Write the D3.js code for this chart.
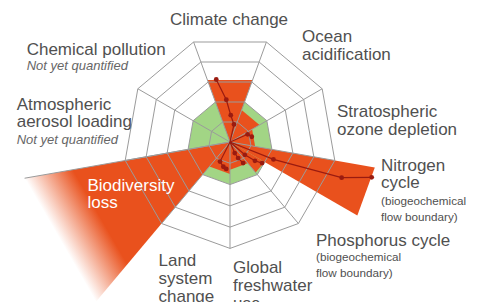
<!DOCTYPE html>
<html><head><meta charset="utf-8">
<script src="https://cdn.jsdelivr.net/npm/d3@7"></script>
<style>html,body{margin:0;padding:0;background:#fff;overflow:hidden}</style>
</head><body><svg id="c" width="479" height="302"></svg>
<script>
// ---------- DATA ----------
const sectors = ["Climate change","Ocean acidification","Stratospheric ozone depletion","Biogeochemical flows","Global freshwater use","Land system change","Biodiversity loss","Atmospheric aerosol loading","Chemical pollution"];
const wedgeNames  = ["Climate change","Ocean acidification","Stratospheric ozone depletion","Nitrogen cycle","Phosphorus cycle","Global freshwater use","Land system change","Biodiversity loss"];
const wedgeSector = [0,1,2,3,3,4,5,6];
const wedgeFrom   = [0,0,0,0,0.5,0,0,0];
const wedgeTo     = [1,1,1,0.5,1,1,1,1];
const wedgeValues = [1.55,0.8,0.6,3.62,0.98,0.65,0.75,4.9]; // multiples of the boundary
const fadingWedge = "Biodiversity loss";
const fadeStart = 3.75;
const boundary = 1;
const gridTicks = [0.5,1,1.5,2,2.5];
// trajectories: [position within wedge (0..1), value]
const trajectories = {
  "Climate change": [[0.82,0.45],[0.54,0.67],[0.375,1.06],[0.19,1.6]],
  "Stratospheric ozone depletion": [[0.16,0.48],[0.41,0.56]],
  "Nitrogen cycle": [[0.59,1.17],[0.385,2.93],[0.2,3.65]],
  "Phosphorus cycle": [[0.54,0.49],[0.35,0.78],[0.165,0.96]],
  "Global freshwater use": [[0.42,0.3],[0.33,0.45],[0.2,0.62]],
  "Land system change": [[0.675,0.55],[0.375,0.64],[0.2,0.68]]
};

// ---------- LAYOUT ----------
const cx = 230, cy = 142;
const svg = d3.select("#c");
const r = d3.scaleLinear().domain([0, 2.5]).range([0, 100]); // apothem in px
const span = 360 / sectors.length;
const a0 = -span / 2;
const rad = d => d * Math.PI / 180;
const pt = (ang, dist) => [cx + dist * Math.sin(rad(ang)), cy - dist * Math.cos(rad(ang))];
function wedgePts(a1, a2, h) {
  const m = (a1 + a2) / 2;
  return [[cx, cy], pt(a1, h / Math.cos(rad(a1 - m))), pt(a2, h / Math.cos(rad(a2 - m)))];
}
function ringPts(h) {
  const R = h / Math.cos(rad(span / 2));
  return d3.range(sectors.length).map(k => pt(a0 + k * span, R));
}
const RED = "#e9511d", GREEN = "#a2d585", GRID = "#9b9b9b", DARK = "#9a1b10";

const defs = svg.append("defs");
const wedgeAngles = wedgeNames.map((n, i) => {
  const s = a0 + wedgeSector[i] * span;
  return [s + wedgeFrom[i] * span, s + wedgeTo[i] * span];
});

// green safe operating space
svg.append("polygon").attr("points", ringPts(r(boundary)).join(" ")).attr("fill", GREEN);

// red wedges
wedgeNames.forEach((n, i) => {
  const [a1, a2] = wedgeAngles[i];
  let fill = RED;
  if (n === fadingWedge) {
    const m = (a1 + a2) / 2;
    const p1 = pt(m, r(fadeStart)), p2 = pt(m, r(wedgeValues[i]));
    const g = defs.append("linearGradient").attr("id", "fade").attr("gradientUnits", "userSpaceOnUse")
      .attr("x1", p1[0]).attr("y1", p1[1]).attr("x2", p2[0]).attr("y2", p2[1]);
    g.append("stop").attr("offset", 0).attr("stop-color", RED).attr("stop-opacity", 1);
    g.append("stop").attr("offset", 0.45).attr("stop-color", RED).attr("stop-opacity", 0.55);
    g.append("stop").attr("offset", 1).attr("stop-color", RED).attr("stop-opacity", 0);
    fill = "url(#fade)";
  }
  svg.append("polygon").attr("points", wedgePts(a1, a2, r(wedgeValues[i])).join(" ")).attr("fill", fill);
});

// grid
const grid = svg.append("g").attr("fill", "none").attr("stroke", GRID).attr("stroke-width", 1);
gridTicks.forEach(t => grid.append("polygon").attr("points", ringPts(r(t)).join(" ")));
const Rout = r(gridTicks[gridTicks.length - 1]) / Math.cos(rad(span / 2));
d3.range(sectors.length).forEach(k => {
  const p = pt(a0 + k * span, Rout);
  grid.append("line").attr("x1", cx).attr("y1", cy).attr("x2", p[0]).attr("y2", p[1]);
});
{ // edge line of the fading wedge
  const i = wedgeNames.indexOf(fadingWedge);
  const [a1, a2] = wedgeAngles[i];
  const p = wedgePts(a1, a2, r(wedgeValues[i]))[2];
  grid.append("line").attr("x1", cx).attr("y1", cy).attr("x2", p[0]).attr("y2", p[1]);
}

// trajectories
const line = d3.line();
Object.entries(trajectories).forEach(([n, pts]) => {
  const i = wedgeNames.indexOf(n);
  const [a1, a2] = wedgeAngles[i];
  const xy = pts.map(([f, v]) => pt(a1 + f * (a2 - a1), r(v)));
  svg.append("path").attr("d", line([[cx, cy], ...xy])).attr("fill", "none").attr("stroke", DARK).attr("stroke-width", 1.2);
  xy.forEach(p => svg.append("circle").attr("cx", p[0]).attr("cy", p[1]).attr("r", 2.4).attr("fill", DARK));
});

// labels
const F = "'Liberation Sans', Arial, sans-serif";
const labels = [
  {t:"Climate change", x:229, y:25, a:"middle"},
  {t:"Ocean", x:302, y:42}, {t:"acidification", x:302, y:60},
  {t:"Stratospheric", x:337, y:117}, {t:"ozone depletion", x:337, y:135},
  {t:"Nitrogen", x:381, y:170.5}, {t:"cycle", x:381, y:188},
  {t:"(biogeochemical", x:381, y:205, s:11.7}, {t:"flow boundary)", x:381, y:220.5, s:11.7},
  {t:"Phosphorus cycle", x:316, y:245.5},
  {t:"(biogeochemical", x:316, y:261, s:11.7}, {t:"flow boundary)", x:316, y:276.5, s:11.7},
  {t:"Global", x:233, y:272.5}, {t:"freshwater", x:233, y:290.5}, {t:"use", x:233, y:308.5},
  {t:"Land", x:158.5, y:265.5}, {t:"system", x:158.5, y:283.5}, {t:"change", x:158.5, y:301.5},
  {t:"Biodiversity", x:87.5, y:190.5, c:"#fff"}, {t:"loss", x:87.5, y:208, c:"#fff"},
  {t:"Atmospheric", x:16.7, y:109.5}, {t:"aerosol loading", x:16.7, y:127},
  {t:"Not yet quantified", x:16.7, y:143.5, s:13, i:true},
  {t:"Chemical pollution", x:26.7, y:54.5},
  {t:"Not yet quantified", x:26.7, y:70, s:13, i:true}
];
svg.append("g").selectAll("text").data(labels).join("text")
  .attr("x", d => d.x).attr("y", d => d.y)
  .attr("text-anchor", d => d.a || "start")
  .attr("font-family", F)
  .attr("font-size", d => d.s || 17)
  .attr("font-style", d => d.i ? "italic" : "normal")
  .attr("fill", d => d.c || (d.i ? "#666" : "#505050"))
  .text(d => d.t);
</script></body></html>
